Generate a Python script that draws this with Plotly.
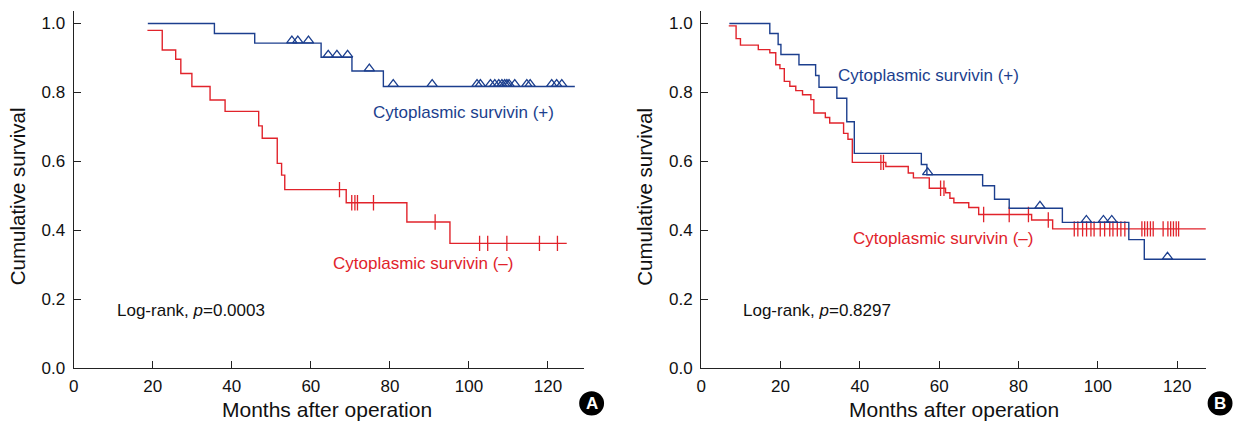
import numpy as np
import plotly.graph_objects as go

W, H = 1239, 428

# ---------------- Data ----------------
# Panel A, cytoplasmic survivin (+)
a_pos_times = [18.75, 35.6, 45.8, 62.6, 70.4, 78.35]
a_pos_surv = [1.0, 0.971, 0.943, 0.902, 0.862, 0.817]
a_pos_end = 126.8
a_pos_cens = [55.2, 56.7, 59.4, 64.4, 66.6, 69.3, 74.8, 80.85, 90.7, 102.05, 102.9,
              105.45, 106.55, 107.55, 108.35, 109.05, 109.6, 110.15, 111.6, 114.65, 115.5,
              120.95, 122.2, 123.5]

# Panel A, cytoplasmic survivin (-)
a_neg_times = [18.65, 22.4, 25.8, 27.1, 29.9, 34.5, 38.3, 46.8, 47.7, 51.5, 52.6, 53.4,
               68.95, 84.3, 95.2]
a_neg_surv = [0.980, 0.923, 0.896, 0.855, 0.817, 0.778, 0.745, 0.703, 0.667, 0.594,
              0.560, 0.518, 0.480, 0.424, 0.362]
a_neg_end = 124.75
a_neg_cens = [67.25, 70.35, 71.15, 71.8, 75.85, 91.45, 102.7, 104.75, 109.6, 117.85, 122.4]

# Panel B, cytoplasmic survivin (+)
b_pos_times = [7.1, 17.3, 19.4, 20.1, 24.65, 28.85, 29.7, 34.2, 36.7, 38.6, 55.5, 56.9,
               70.95, 73.95, 77.65, 91.05, 107.8, 111.7]
b_pos_surv = [1.0, 0.971, 0.939, 0.910, 0.880, 0.849, 0.815, 0.783, 0.715, 0.623, 0.591,
              0.561, 0.529, 0.490, 0.464, 0.423, 0.373, 0.316]
b_pos_end = 127.2
b_pos_cens = [57.1, 85.4, 97.1, 101.4, 103.5, 117.55]

# Panel B, cytoplasmic survivin (-)
b_neg_times = [6.95, 8.8, 9.9, 14.4, 17.3, 18.8, 19.85, 20.95, 22.35, 23.85, 25.55, 27.65,
               28.4, 31.3, 32.4, 35.9, 37.0, 38.1, 46.55, 52.2, 53.5, 57.5, 61.6, 62.7,
               63.7, 67.45, 69.95, 83.3, 88.6]
b_neg_surv = [0.993, 0.956, 0.937, 0.924, 0.915, 0.880, 0.869, 0.832, 0.818, 0.805,
              0.793, 0.779, 0.740, 0.727, 0.711, 0.681, 0.664, 0.597, 0.585, 0.566,
              0.552, 0.522, 0.509, 0.493, 0.480, 0.466, 0.446, 0.430, 0.404]
b_neg_end = 127.2
b_neg_cens = [45.3, 45.95, 60.35, 61.2, 71.2, 77.65, 82.5, 87.5, 94.05, 94.95, 96.15, 97.15,
              98.25, 99.05, 100.6, 101.7, 103.0, 103.8, 104.9, 105.8, 106.8, 111.1, 111.8,
              112.5, 113.25, 113.95, 116.45, 117.65, 118.35, 119.05, 119.75, 120.35]

x_ticks = [0, 20, 40, 60, 80, 100, 120]
y_ticks = [0.0, 0.2, 0.4, 0.6, 0.8, 1.0]
label_pos = "Cytoplasmic survivin (+)"
label_neg = "Cytoplasmic survivin (–)"
p_values = ["0.0003", "0.8297"]
panel_letters = ["A", "B"]

BLUE = "#1c3f8e"
RED = "#e1232b"
FONT = "Liberation Sans, Arial, Helvetica, sans-serif"


def step_xy(times, surv, end):
    return list(times) + [end], list(surv) + [surv[-1]]


def cens_y(times, surv, cens):
    idx = np.searchsorted(np.asarray(times), np.asarray(cens), side="right") - 1
    return [surv[i] for i in idx]


fig = go.Figure()

panels = [
    ("x", "y", a_pos_times, a_pos_surv, a_pos_end, a_pos_cens,
     a_neg_times, a_neg_surv, a_neg_end, a_neg_cens),
    ("x2", "y2", b_pos_times, b_pos_surv, b_pos_end, b_pos_cens,
     b_neg_times, b_neg_surv, b_neg_end, b_neg_cens),
]

for xa, ya, pt, ps, pe, pc, nt, ns, ne, nc in panels:
    sx, sy = step_xy(nt, ns, ne)
    fig.add_trace(go.Scatter(x=sx, y=sy, mode="lines", line=dict(color=RED, width=1.4, shape="hv"),
                             xaxis=xa, yaxis=ya, showlegend=False, hoverinfo="skip"))
    fig.add_trace(go.Scatter(x=nc, y=cens_y(nt, ns, nc), mode="markers",
                             marker=dict(symbol="line-ns-open", size=11, color=RED,
                                         line=dict(color=RED, width=1.3)),
                             xaxis=xa, yaxis=ya, showlegend=False, hoverinfo="skip"))
    sx, sy = step_xy(pt, ps, pe)
    fig.add_trace(go.Scatter(x=sx, y=sy, mode="lines", line=dict(color=BLUE, width=1.4, shape="hv"),
                             xaxis=xa, yaxis=ya, showlegend=False, hoverinfo="skip"))
    fig.add_trace(go.Scatter(x=pc, y=[v + 0.007 for v in cens_y(pt, ps, pc)], mode="markers",
                             marker=dict(symbol="triangle-up-open", size=9, color=BLUE,
                                         line=dict(color=BLUE, width=1.3)),
                             xaxis=xa, yaxis=ya, showlegend=False, hoverinfo="skip"))


def px(x):
    return x / W


def py(y):
    return (H - y) / H


# y: 0.0 at 377 px, 1.0 at 24 px; top of axis at 11 px
y0_px, y1_px, ytop_px = 377.0, 24.0, 11.0
ytop = (y0_px - ytop_px) / (y0_px - y1_px)
y_dom = [py(y0_px), py(ytop_px)]
xaxis_common = dict(ticks="inside", ticklen=7, tickwidth=1.3, tickvals=x_ticks,
                    tickcolor="#222", showline=True, linecolor="#222", linewidth=1.3,
                    showgrid=False, zeroline=False, fixedrange=True,
                    tickfont=dict(family=FONT, size=17, color="#111"), ticklabelstandoff=2)
yaxis_common = dict(range=[0, ytop], tickvals=y_ticks, tickformat=".1f", ticks="inside", ticklen=7,
                    tickwidth=1.3, tickcolor="#222", showline=True, linecolor="#222", linewidth=1.3,
                    showgrid=False, zeroline=False, fixedrange=True,
                    tickfont=dict(family=FONT, size=17, color="#111"), ticklabelstandoff=4)

# x: A axis 69 px -> 581 px (3.968 px/month); B axis 699 px -> 1206 px (3.983 px/month)
fig.update_layout(
    width=W, height=H, margin=dict(l=0, r=0, t=0, b=0),
    paper_bgcolor="white", plot_bgcolor="white",
    xaxis=dict(domain=[px(69), px(581)], anchor="y", range=[0, (581 - 69) / 3.968], **xaxis_common),
    yaxis=dict(domain=y_dom, anchor="x", **yaxis_common),
    xaxis2=dict(domain=[px(699), px(1206)], anchor="y2", range=[0, (1206 - 699) / 3.983],
                **xaxis_common),
    yaxis2=dict(domain=y_dom, anchor="x2", **yaxis_common),
)

ann = []
for i, (ytx, xtx, lr, lp, ln, circ) in enumerate([
    (12, 323, 110, (367, 115), (327, 270), (589, 413)),
    (642, 953, 739, (834, 77), (849, 244), (1220, 413)),
]):
    ann.append(dict(text="Cumulative survival", x=px(ytx), y=py(201), xref="paper", yref="paper",
                    textangle=-90, showarrow=False, font=dict(family=FONT, size=20.5, color="#111"),
                    xanchor="center", yanchor="middle"))
    ann.append(dict(text="Months after operation", x=px(xtx), y=py(419), xref="paper", yref="paper",
                    showarrow=False, font=dict(family=FONT, size=21, color="#111"),
                    xanchor="center", yanchor="middle"))
    ann.append(dict(text="Log-rank, <i>p</i>=" + p_values[i], x=px(lr), y=py(318), xref="paper",
                    yref="paper", showarrow=False, font=dict(family=FONT, size=17, color="#111"),
                    xanchor="left", yanchor="middle"))
    ann.append(dict(text=label_pos, x=px(lp[0]), y=py(lp[1]), xref="paper", yref="paper",
                    showarrow=False, font=dict(family=FONT, size=17, color=BLUE),
                    xanchor="left", yanchor="middle"))
    ann.append(dict(text=label_neg, x=px(ln[0]), y=py(ln[1]), xref="paper", yref="paper",
                    showarrow=False, font=dict(family=FONT, size=17, color=RED),
                    xanchor="left", yanchor="middle"))
    r = 12.5
    fig.add_shape(type="circle", xref="paper", yref="paper",
                  x0=px(circ[0] - r), x1=px(circ[0] + r), y0=py(circ[1] + r), y1=py(circ[1] - r),
                  fillcolor="black", line=dict(color="black", width=0))
    ann.append(dict(text="<b>" + panel_letters[i] + "</b>", x=px(circ[0]), y=py(circ[1]),
                    xref="paper", yref="paper", showarrow=False,
                    font=dict(family=FONT, size=17, color="white"),
                    xanchor="center", yanchor="middle"))

fig.update_layout(annotations=ann)
fig.write_html(
    "out.html",
    config={"displayModeBar": False},
    post_script="document.body.style.margin='0px';document.body.style.overflow='hidden';"
                "document.documentElement.style.overflow='hidden';",
)
